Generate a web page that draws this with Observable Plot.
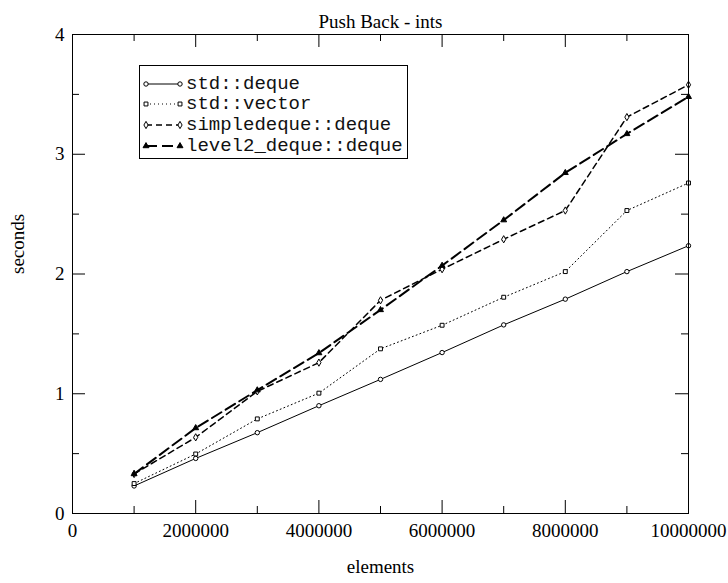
<!DOCTYPE html>
<html>
<head>
<meta charset="utf-8">
<script src="https://cdn.jsdelivr.net/npm/d3@7"></script>
<script src="https://cdn.jsdelivr.net/npm/@observablehq/plot@0.6"></script>
<style>
  body { margin: 0; background: white; }
  #wrap { position: relative; width: 728px; height: 583px; }
  #legend {
    position: absolute; left: 139px; top: 65px; width: 267px; height: 92px;
    border: 1px solid black; background: white;
    font-family: "Liberation Mono", monospace; font-size: 19px; color: #111;
    box-sizing: content-box;
  }
  .row { position: absolute; left: 0; height: 20px; display: flex; align-items: center; }
  .row svg { width: 46px; height: 12px; display: block; }
  .row span { line-height: 20px; white-space: pre; }
</style>
</head>
<body>
<div id="wrap"></div>
<script>
const title = "Push Back - ints";
const xLabel = "elements";
const yLabel = "seconds";

const elements = [1000000, 2000000, 3000000, 4000000, 5000000, 6000000, 7000000, 8000000, 9000000, 10000000];
const stdDeque = [0.23, 0.46, 0.675, 0.90, 1.12, 1.344, 1.575, 1.79, 2.02, 2.236];
const stdVector = [0.25, 0.497, 0.79, 1.005, 1.375, 1.572, 1.806, 2.02, 2.53, 2.76];
const simpleDeque = [0.33, 0.636, 1.02, 1.26, 1.78, 2.04, 2.29, 2.53, 3.31, 3.58];
const level2Deque = [0.33, 0.714, 1.03, 1.34, 1.70, 2.07, 2.45, 2.845, 3.17, 3.48];

const seriesNames = ["std::deque", "std::vector", "simpledeque::deque", "level2_deque::deque"];

const xTicks = [0, 2000000, 4000000, 6000000, 8000000, 10000000];
const xMinor = [1000000, 3000000, 5000000, 7000000, 9000000];
const yTicks = [0, 1, 2, 3, 4];
const yMinor = [0.5, 1.5, 2.5, 3.5];

const styles = [
  {dash: null, width: 1, symbol: "circle", fill: "white", r: 2.2},
  {dash: "1,3", width: 1, symbol: "square", fill: "white", r: 2.2},
  {dash: "6,4", width: 1.5, symbol: "diamond", fill: "white", r: 2.2},
  {dash: "11,5", width: 2, symbol: "triangle", fill: "black", r: 2.2}
];

const allSeries = [stdDeque, stdVector, simpleDeque, level2Deque];
const rows = allSeries.map((vals, i) => elements.map((x, j) => ({x, y: vals[j], s: seriesNames[i]})));

const W = 728, H = 583;
const mL = 72, mR = 40, mT = 34, mB = 70;
const fw = W - mL - mR, fh = H - mT - mB;
const major = 13, minor = 7;

const marks = [];
// ticks (inward, mirrored)
marks.push(Plot.tickY(yTicks, {y: d => d, insetRight: fw - major, stroke: "black"}));
marks.push(Plot.tickY(yTicks, {y: d => d, insetLeft: fw - major, stroke: "black"}));
marks.push(Plot.tickY(yMinor, {y: d => d, insetRight: fw - minor, stroke: "black"}));
marks.push(Plot.tickY(yMinor, {y: d => d, insetLeft: fw - minor, stroke: "black"}));
marks.push(Plot.tickX(xTicks, {x: d => d, insetTop: fh - major, stroke: "black"}));
marks.push(Plot.tickX(xTicks, {x: d => d, insetBottom: fh - major, stroke: "black"}));
marks.push(Plot.tickX(xMinor, {x: d => d, insetTop: fh - minor, stroke: "black"}));
marks.push(Plot.tickX(xMinor, {x: d => d, insetBottom: fh - minor, stroke: "black"}));

rows.forEach((data, i) => {
  const st = styles[i];
  marks.push(Plot.line(data, {x: "x", y: "y", stroke: "black", strokeWidth: st.width, strokeDasharray: st.dash}));
});
rows.forEach((data, i) => {
  const st = styles[i];
  marks.push(Plot.dot(data, {x: "x", y: "y", symbol: st.symbol, r: st.r, stroke: "black", strokeWidth: 1, fill: st.fill}));
});

marks.push(Plot.frame({stroke: "black", strokeWidth: 1}));
marks.push(Plot.axisX({ticks: xTicks, tickSize: 0, tickPadding: 10, tickFormat: d => String(d), label: null}));
marks.push(Plot.axisY({ticks: yTicks, tickSize: 0, tickPadding: 8, tickFormat: d => String(d), label: null}));
marks.push(Plot.text([title], {text: d => d, frameAnchor: "top", dy: -20, fontSize: 19, fill: "black"}));
marks.push(Plot.text([xLabel], {text: d => d, frameAnchor: "bottom", dy: 59, fill: "black"}));
marks.push(Plot.text([yLabel], {text: d => d, frameAnchor: "left", dx: -55, rotate: -90, fill: "black"}));

const chart = Plot.plot({
  width: W, height: H,
  marginLeft: mL, marginRight: mR, marginTop: mT, marginBottom: mB,
  x: {domain: [0, 10000000]},
  y: {domain: [0, 4]},
  style: {fontFamily: "Liberation Serif", fontSize: "19px", background: "white", color: "black"},
  marks
});
const wrap = document.getElementById("wrap");
wrap.appendChild(chart);

// legend
const legend = document.createElement("div");
legend.id = "legend";
const rowTops = [8, 28, 49, 70];
seriesNames.forEach((name, i) => {
  const st = styles[i];
  const row = document.createElement("div");
  row.className = "row";
  row.style.top = rowTops[i] + "px";
  const svg = d3.create("svg").attr("width", 46).attr("height", 12);
  svg.append("line").attr("x1", 6).attr("x2", 40).attr("y1", 6).attr("y2", 6)
    .attr("stroke", "black").attr("stroke-width", st.width)
    .attr("stroke-dasharray", st.dash || null);
  const sym = d3.symbol().type({circle: d3.symbolCircle, square: d3.symbolSquare, diamond: d3.symbolDiamond, triangle: d3.symbolTriangle}[st.symbol]).size(Math.PI * st.r * st.r);
  [6, 40].forEach(cx => {
    svg.append("path").attr("d", sym()).attr("transform", `translate(${cx},6)`)
      .attr("stroke", "black").attr("fill", st.fill).attr("stroke-width", 1);
  });
  row.appendChild(svg.node());
  const span = document.createElement("span");
  span.textContent = name;
  row.appendChild(span);
  legend.appendChild(row);
});
wrap.appendChild(legend);
</script>
</body>
</html>
